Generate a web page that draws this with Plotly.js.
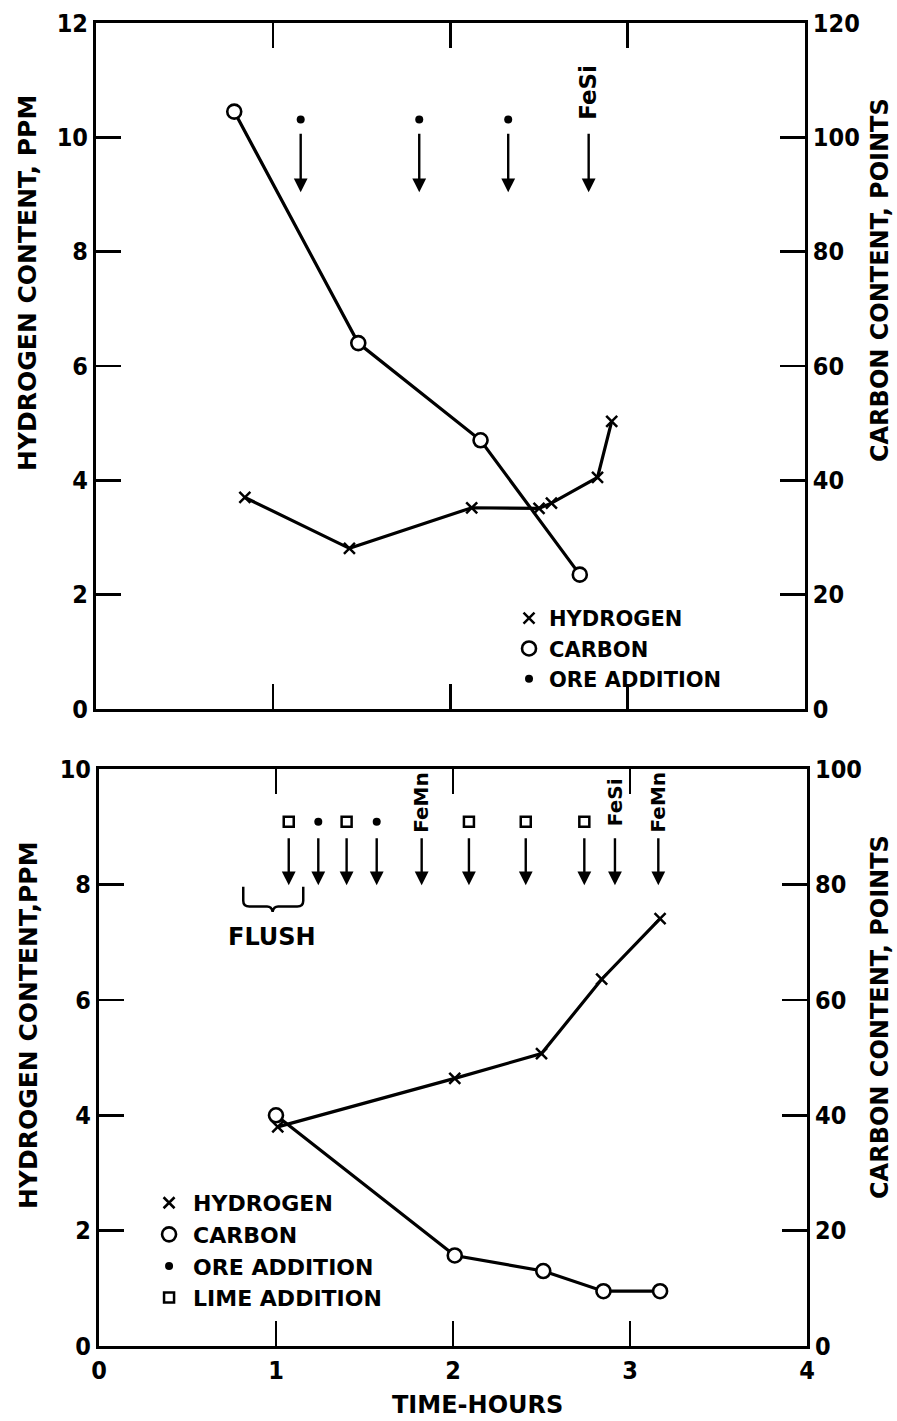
<!DOCTYPE html>
<html><head><meta charset="utf-8">
<script src="https://cdn.plot.ly/plotly-3.0.1.min.js"></script>
<style>html,body{margin:0;padding:0;background:#fff}</style>
</head><body><div id="chart" style="width:897px;height:1421px"></div>
<script>
// ---------- DATA: top panel ----------
const h1Time = [0.84, 1.43, 2.12, 2.50, 2.57, 2.83, 2.91];
const h1Ppm = [3.70, 2.81, 3.52, 3.51, 3.60, 4.05, 5.03];
const c1Time = [0.78, 1.48, 2.17, 2.73];
const c1Points = [104.5, 64, 47, 23.5];
const ore1Time = [1.155, 1.824, 2.326];
const feSi1Time = [2.78];
// ---------- DATA: bottom panel ----------
const h2Time = [1.01, 2.01, 2.50, 2.84, 3.17];
const h2Ppm = [3.80, 4.64, 5.07, 6.36, 7.41];
const c2Time = [1.00, 2.01, 2.51, 2.85, 3.17];
const c2Points = [40, 15.7, 13, 9.5, 9.5];
const ore2Time = [1.239, 1.569];
const lime2Time = [1.072, 1.399, 2.09, 2.411, 2.742];
const feMn2Time = [1.823, 3.16];
const feSi2Time = [2.915];
// ---------- tick labels ----------
const timeTicks = [0, 1, 2, 3, 4];
const hTicksTop = [0, 2, 4, 6, 8, 10, 12];
const cTicksTop = [0, 20, 40, 60, 80, 100, 120];
const hTicksBot = [0, 2, 4, 6, 8, 10];
const cTicksBot = [0, 20, 40, 60, 80, 100];

// ---------- layout positions (not data) ----------
const lvl1 = 10.31, arrTop1 = 10.09, arrTip1 = 9.04, lab1 = 10.79;
const lvl2 = 9.09, arrTop2 = 8.83, arrTip2 = 7.99, lab2 = 9.43;

const FONT = 'DejaVu Sans Condensed, DejaVu Sans, sans-serif';
const LFONT = 'DejaVu Sans, sans-serif';
const rep = (arr, v) => arr.map(() => v);

const hMarker = {symbol: 'x-thin', size: 11, color: '#000', line: {width: 2.5, color: '#000'}};
const cMarker = {symbol: 'circle', size: 14, color: '#fff', line: {width: 2.6, color: '#000'}};
const oreMarker = {symbol: 'circle', size: 8, color: '#000'};
const limeMarker = {symbol: 'square-open', size: 10, color: '#000', line: {width: 2.5, color: '#000'}};
const LW = 3.2;

const traces = [
  {x: h1Time, y: h1Ppm, xaxis: 'x', yaxis: 'y', mode: 'lines+markers', line: {color: '#000', width: LW}, marker: hMarker, showlegend: false},
  {x: c1Time, y: c1Points, xaxis: 'x', yaxis: 'y2', mode: 'lines+markers', line: {color: '#000', width: LW}, marker: cMarker, showlegend: false},
  {x: [null], y: [null], xaxis: 'x', yaxis: 'y', mode: 'markers', marker: hMarker, name: 'HYDROGEN', legend: 'legend'},
  {x: [null], y: [null], xaxis: 'x', yaxis: 'y', mode: 'markers', marker: cMarker, name: 'CARBON', legend: 'legend'},
  {x: ore1Time, y: rep(ore1Time, lvl1), xaxis: 'x', yaxis: 'y', mode: 'markers', marker: oreMarker, name: 'ORE ADDITION', legend: 'legend'},

  {x: h2Time, y: h2Ppm, xaxis: 'x2', yaxis: 'y3', mode: 'lines+markers', line: {color: '#000', width: LW}, marker: hMarker, showlegend: false},
  {x: c2Time, y: c2Points, xaxis: 'x2', yaxis: 'y4', mode: 'lines+markers', line: {color: '#000', width: LW}, marker: cMarker, showlegend: false},
  {x: [null], y: [null], xaxis: 'x2', yaxis: 'y3', mode: 'markers', marker: hMarker, name: 'HYDROGEN', legend: 'legend2'},
  {x: [null], y: [null], xaxis: 'x2', yaxis: 'y3', mode: 'markers', marker: cMarker, name: 'CARBON', legend: 'legend2'},
  {x: ore2Time, y: rep(ore2Time, lvl2), xaxis: 'x2', yaxis: 'y3', mode: 'markers', marker: oreMarker, name: 'ORE ADDITION', legend: 'legend2'},
  {x: lime2Time, y: rep(lime2Time, lvl2), xaxis: 'x2', yaxis: 'y3', mode: 'markers', marker: limeMarker, name: 'LIME ADDITION', legend: 'legend2'}
];

function arrow(xv, xr, yr, y0, y1) {
  return {x: xv, y: y1, ax: xv, ay: y0, xref: xr, yref: yr, axref: xr, ayref: yr,
    text: '', showarrow: true, arrowhead: 2, arrowsize: 1.15, arrowwidth: 2.4,
    arrowcolor: '#000', standoff: 0, startstandoff: 0};
}
function vlabel(txt, xv, xr, yr, yv, sz) {
  return {x: xv, y: yv, xref: xr, yref: yr, text: txt, textangle: -90, showarrow: false,
    xanchor: 'center', yanchor: 'middle', font: {family: LFONT, size: sz, color: '#000', weight: 'bold'}};
}
const ann = [];
ore1Time.forEach(t => ann.push(arrow(t, 'x', 'y', arrTop1, arrTip1)));
feSi1Time.forEach(t => { ann.push(arrow(t, 'x', 'y', arrTop1, arrTip1)); ann.push(vlabel('FeSi', t, 'x', 'y', lab1, 23)); });
lime2Time.concat(ore2Time).forEach(t => ann.push(arrow(t, 'x2', 'y3', arrTop2, arrTip2)));
feMn2Time.forEach(t => { ann.push(arrow(t, 'x2', 'y3', arrTop2, arrTip2)); ann.push(vlabel('FeMn', t, 'x2', 'y3', lab2, 20)); });
feSi2Time.forEach(t => { ann.push(arrow(t, 'x2', 'y3', arrTop2, arrTip2)); ann.push(vlabel('FeSi', t, 'x2', 'y3', lab2, 20)); });

function title(txt, x, y, angle, sz) {
  return {text: txt, x: x, y: y, xref: 'paper', yref: 'paper', showarrow: false, textangle: angle,
    xanchor: 'center', yanchor: 'middle', font: {family: LFONT, size: sz, color: '#000', weight: 'bold'}};
}
ann.push(title('HYDROGEN CONTENT, PPM', -0.0956, 0.8035, -90, 25));
ann.push(title('CARBON CONTENT, POINTS', 1.1027, 0.8057, -90, 24));
ann.push(title('HYDROGEN CONTENT,PPM', -0.0956, 0.2426, -90, 25));
ann.push(title('CARBON CONTENT, POINTS', 1.1027, 0.2487, -90, 24));
ann.push(title('TIME-HOURS', 0.536, -0.0446, 0, 24));
ann.push({text: 'FLUSH', x: 0.976, y: 7.10, xref: 'x2', yref: 'y3', showarrow: false,
  xanchor: 'center', yanchor: 'middle', font: {family: LFONT, size: 24, color: '#000', weight: 'bold'}});

const axBase = {showgrid: false, zeroline: false, showline: true, linecolor: '#000', linewidth: 3,
  ticks: 'inside', ticklen: 25, tickwidth: 2.5, tickcolor: '#000',
  tickfont: {family: FONT, size: 25, color: '#000', weight: 'bold'}};

const layout = {
  width: 897, height: 1421,
  margin: {l: 96, r: 90, t: 23, b: 75},
  paper_bgcolor: '#fff', plot_bgcolor: '#fff',
  showlegend: true,
  xaxis: Object.assign({}, axBase, {domain: [0, 0.997], range: [0, 4], tickvals: timeTicks, showticklabels: false, mirror: 'ticks', anchor: 'y'}),
  yaxis: Object.assign({}, axBase, {domain: [0.4815, 1], range: [0, 12], tickvals: hTicksTop, anchor: 'x'}),
  yaxis2: Object.assign({}, axBase, {range: [0, 120], tickvals: cTicksTop, overlaying: 'y', side: 'right', anchor: 'x'}),
  xaxis2: Object.assign({}, axBase, {domain: [0.0042, 1], range: [0, 4], tickvals: timeTicks, mirror: 'ticks', anchor: 'y3'}),
  yaxis3: Object.assign({}, axBase, {domain: [0, 0.4359], range: [0, 10], tickvals: hTicksBot, anchor: 'x2'}),
  yaxis4: Object.assign({}, axBase, {range: [0, 100], tickvals: cTicksBot, overlaying: 'y3', side: 'right', anchor: 'x2'}),
  legend: {x: 0.5809, y: 0.5654, xanchor: 'left', yanchor: 'top', bgcolor: 'rgba(0,0,0,0)',
    font: {family: LFONT, size: 21, color: '#000', weight: 'bold'}, itemwidth: 30, traceorder: 'normal'},
  legend2: {x: 0.069, y: 0.1240, xanchor: 'left', yanchor: 'top', bgcolor: 'rgba(0,0,0,0)',
    font: {family: LFONT, size: 22, color: '#000', weight: 'bold'}, itemwidth: 38, traceorder: 'normal'},
  annotations: ann,
  shapes: [{type: 'path', xref: 'x2', yref: 'y3', line: {color: '#000', width: 2.5},
    path: 'M 0.815,7.965 L 0.815,7.72 Q 0.815,7.62 0.85,7.62 L 0.95,7.62 Q 0.975,7.62 0.981,7.53 Q 0.987,7.62 1.012,7.62 L 1.12,7.62 Q 1.154,7.62 1.154,7.72 L 1.154,7.965'}]
};

Plotly.newPlot('chart', traces, layout, {staticPlot: true, displayModeBar: false});
</script></body></html>
